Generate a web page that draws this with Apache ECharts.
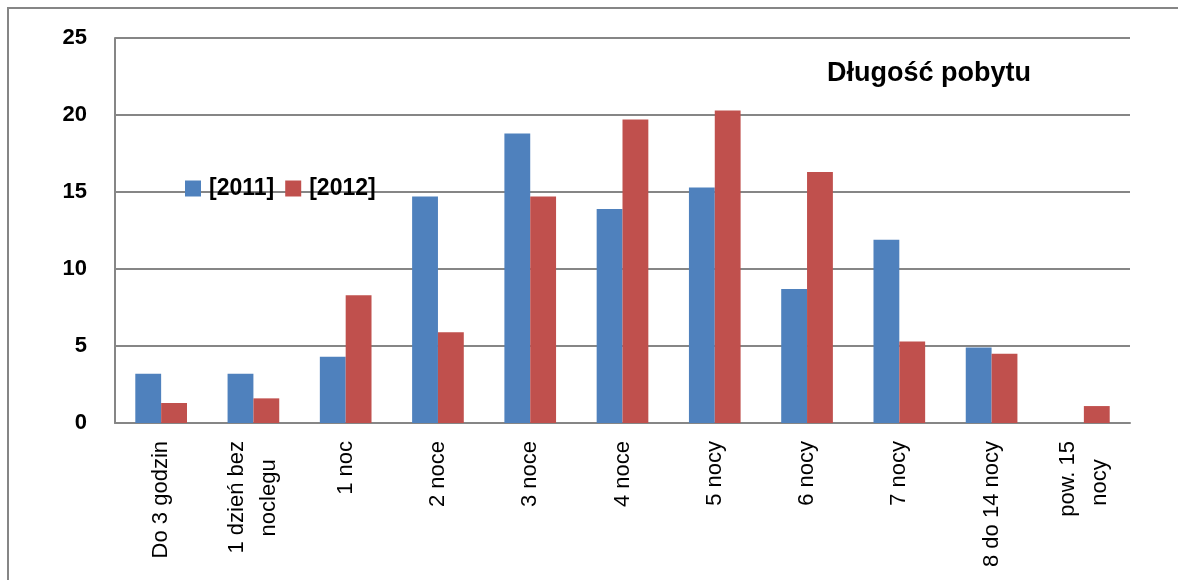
<!DOCTYPE html>
<html>
<head>
<meta charset="utf-8">
<script src="https://cdn.jsdelivr.net/npm/echarts@6/dist/echarts.min.js"></script>
<style>
  html, body { margin: 0; padding: 0; background: #fff; }
  #main { width: 1178px; height: 580px; }
</style>
</head>
<body>
<div id="main"></div>
<script>
// data
// (trailing spaces on the 2nd line mimic the centred lines of the original labels)
var categories = ['Do 3 godzin', '1 dzień bez\nnoclegu   ', '1 noc', '2 noce', '3 noce', '4 noce',
  '5 nocy', '6 nocy', '7 nocy', '8 do 14 nocy', 'pow. 15\nnocy   ']
var data2011 = [3.2, 3.2, 4.3, 14.7, 18.8, 13.9, 15.3, 8.7, 11.9, 4.9, 0]
var data2012 = [1.3, 1.6, 8.3, 5.9, 14.7, 19.7, 20.3, 16.3, 5.3, 4.5, 1.1]
var yTicks = [0, 5, 10, 15, 20, 25]

var font = 'Liberation Sans'
var gray = '#868686'

var myChart = echarts.init(document.getElementById('main'))
var option = {
  animation: false,
  color: ['#4F81BD', '#C0504D'],
  title: {
    text: 'Długość pobytu',
    left: 822,
    top: 55,
    textStyle: { fontFamily: font, fontSize: 27, fontWeight: 'bold', color: '#000' }
  },
  legend: {
    left: 180,
    top: 172,
    itemWidth: 16,
    itemHeight: 16,
    itemGap: 11,
    icon: 'rect',
    data: ['[2011]', '[2012]'],
    textStyle: { fontFamily: font, fontSize: 23, fontWeight: 'bold', color: '#000', padding: [0, 0, 0, 3] }
  },
  grid: { left: 115, right: 48, top: 38, bottom: 157, containLabel: false },
  xAxis: {
    type: 'category',
    data: categories,
    axisLine: { lineStyle: { color: gray, width: 2 } },
    axisTick: { show: false },
    axisLabel: {
      rotate: 90,
      interval: 0,
      margin: 18,
      fontFamily: font,
      fontSize: 22,
      color: '#000',
      lineHeight: 32
    }
  },
  yAxis: {
    type: 'value',
    min: yTicks[0],
    max: yTicks[yTicks.length - 1],
    interval: 5,
    axisLine: { show: true, lineStyle: { color: gray, width: 2 } },
    axisTick: { show: false },
    splitLine: { lineStyle: { color: gray, width: 2 } },
    axisLabel: { margin: 28, fontFamily: font, fontSize: 22, fontWeight: 'bold', color: '#000' }
  },
  series: [
    { name: '[2011]', type: 'bar', data: data2011, barGap: '0%', barCategoryGap: '44%' },
    { name: '[2012]', type: 'bar', data: data2012, barGap: '0%', barCategoryGap: '44%' }
  ],
  graphic: [
    {
      type: 'rect',
      silent: true,
      shape: { x: 8, y: 8, width: 1300, height: 700 },
      style: { fill: 'none', stroke: gray, lineWidth: 2 }
    }
  ]
}
myChart.setOption(option)
</script>
</body>
</html>
